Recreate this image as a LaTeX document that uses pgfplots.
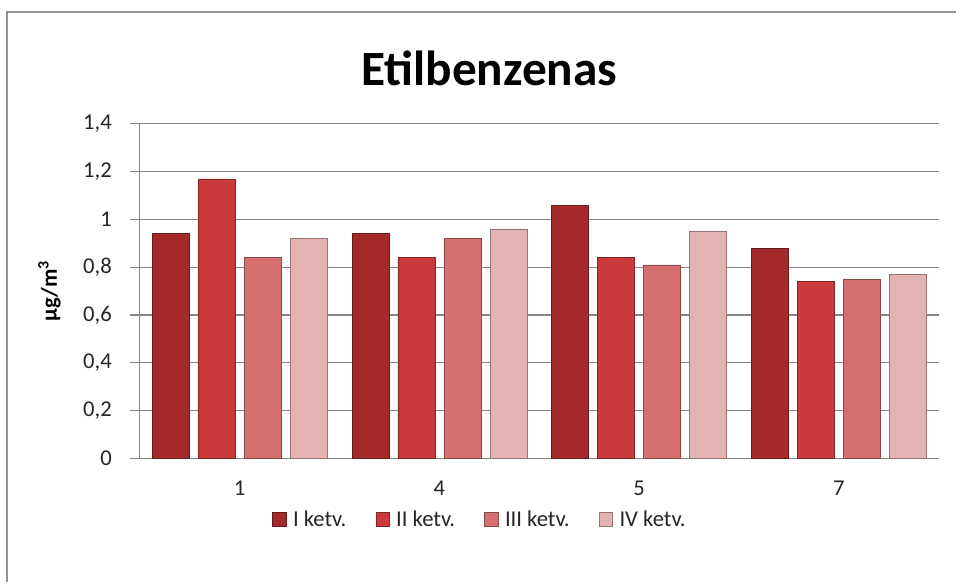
\documentclass[border=0pt]{standalone}
\usepackage{fontspec}
\setmainfont{Carlito}
\usepackage{pgfplots}
\pgfplotsset{compat=1.18}

\definecolor{qone}{RGB}{164,42,42}
\definecolor{qtwo}{RGB}{202,58,58}
\definecolor{qthree}{RGB}{212,112,112}
\definecolor{qfour}{RGB}{228,178,178}
\definecolor{gridgray}{RGB}{134,134,134}

% 1 px of the reference = 0.75pt
\begin{document}
\begin{tikzpicture}[x=0.75pt,y=0.75pt]
  \begin{axis}[
    at={(0,0)},anchor=south west,
    scale only axis,width=600pt,height=251.25pt,
    ybar=6.75pt,bar width=27.75pt,
    xmin=-0.5,xmax=3.5,ymin=0,ymax=1.4,
    xtick=data,xticklabels={1,4,5,7},
    ytick={0,0.2,...,1.4},
    /pgf/number format/use comma,
    /pgf/number format/assume math mode=true,
    ticklabel style={font=\fontsize{17}{20}\selectfont,text=black!85},
    ymajorgrids,grid style={gridgray,line width=0.9pt},
    axis x line*=bottom,axis y line*=left,
    axis line style={gridgray,line width=0.9pt},
    x axis line style={-},y axis line style={-},
    major tick length=7.5pt,
    xtick style={draw=none},ytick style={gridgray,line width=0.9pt},
    tick align=outside,
    xticklabel style={yshift=-6pt},
    yticklabel style={xshift=-10pt},
    ylabel={\textbf{µg/m\textsuperscript{3}}},
    ylabel style={font=\fontsize{17}{20}\selectfont,yshift=10pt},
    legend style={at={(255.75pt,-45.75pt)},anchor=center,draw=none,
      legend columns=4,font=\fontsize{17}{20}\selectfont,text=black!85,
      /tikz/every odd column/.append style={column sep=3pt},
      /tikz/every even column/.append style={column sep=20pt}},
    legend image code/.code={\draw[#1,line width=0.5pt] (0pt,-5pt) rectangle (10pt,5pt);},
  ]
    \addplot[draw=qone!65!black,fill=qone] coordinates {(0,0.94)(1,0.94)(2,1.06)(3,0.88)};
    \addplot[draw=qtwo!65!black,fill=qtwo] coordinates {(0,1.17)(1,0.84)(2,0.84)(3,0.74)};
    \addplot[draw=qthree!65!black,fill=qthree] coordinates {(0,0.84)(1,0.92)(2,0.81)(3,0.75)};
    \addplot[draw=qfour!65!black,fill=qfour] coordinates {(0,0.92)(1,0.96)(2,0.95)(3,0.77)};
    \legend{I ketv.,II ketv.,III ketv.,IV ketv.}
  \end{axis}
  % chart frame (top and left edges visible in the reference)
  \draw[gridgray!90,line width=2pt] (-133,-124) -- (-133,447) -- (817,447);
  \path (-140,-124) rectangle (817,459);
  \node[font=\bfseries\fontsize{37}{42}\selectfont] at (350,391) {Etilbenzenas};
\end{tikzpicture}
\end{document}
